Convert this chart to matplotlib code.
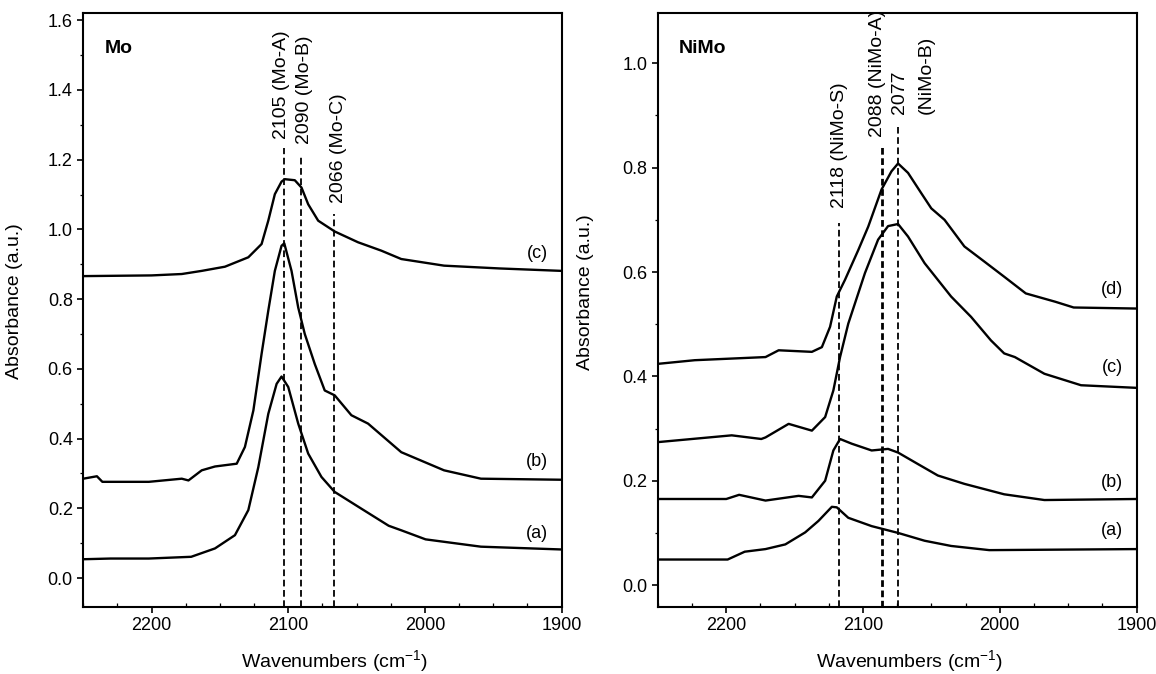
import matplotlib.pyplot as plt
from matplotlib.ticker import MultipleLocator

plt.rcParams['font.family'] = ['Liberation Sans', 'DejaVu Sans']

# ---- Mo panel ----
mo_a_x = [2250, 2230, 2202, 2171, 2153.6, 2139, 2129.2, 2121.9, 2114.6, 2108.5, 2104.9,
          2100, 2092.7, 2085.4, 2075.7, 2066, 2046.5, 2026.5, 2017.3, 1999.5, 1959, 1900]
mo_a_y = [0.054, 0.056, 0.056, 0.061, 0.085, 0.123, 0.195, 0.318, 0.471, 0.557, 0.578,
          0.548, 0.443, 0.357, 0.290, 0.247, 0.199, 0.150, 0.137, 0.111, 0.090, 0.082]

mo_b_x = [2250, 2240, 2236, 2202, 2177.9, 2173, 2163.3, 2153.6, 2137.7, 2131.7, 2125.5,
          2119.5, 2114.6, 2109.8, 2104.9, 2102.9, 2097.6, 2092.7, 2087.9, 2080.6, 2073.3,
          2066, 2053.8, 2041.6, 2017.3, 1986, 1959, 1900]
mo_b_y = [0.285, 0.292, 0.276, 0.276, 0.285, 0.280, 0.309, 0.320, 0.328, 0.376, 0.481,
          0.643, 0.767, 0.881, 0.953, 0.960, 0.881, 0.776, 0.700, 0.614, 0.538,
          0.524, 0.467, 0.443, 0.361, 0.309, 0.285, 0.282]

mo_c_x = [2250, 2200, 2177.9, 2163.3, 2146.3, 2129.2, 2119.5, 2114.6, 2109.8, 2104.9,
          2102.5, 2095.2, 2090.3, 2085.4, 2078.1, 2066, 2048.9, 2031.9, 2017.3, 1986,
          1945.5, 1900]
mo_c_y = [0.866, 0.868, 0.872, 0.881, 0.893, 0.920, 0.958, 1.025, 1.101, 1.137,
          1.144, 1.141, 1.120, 1.072, 1.025, 0.994, 0.963, 0.939, 0.915, 0.896,
          0.888, 0.881]

mo_lines = [2103.2, 2090.5, 2066.8]
mo_line_tops = [1.234, 1.21, 1.045]
mo_labels = ['2105 (Mo-A)', '2090 (Mo-B)', '2066 (Mo-C)']
mo_label_x = [2104.9, 2087.8, 2063.5]
mo_label_y = [1.259, 1.245, 1.076]

# ---- NiMo panel ----
nimo_a_x = [2250, 2199, 2186.5, 2171.3, 2156.8, 2142.3, 2132.6, 2122.8, 2119.2, 2110.8,
            2093.7, 2074.4, 2055, 2035.6, 2007.7, 1900]
nimo_a_y = [0.049, 0.049, 0.064, 0.069, 0.078, 0.101, 0.123, 0.150, 0.149, 0.129,
            0.113, 0.100, 0.085, 0.075, 0.067, 0.069]

nimo_b_x = [2250, 2200, 2190.6, 2171.3, 2147.1, 2137.4, 2127.7, 2121.7, 2116.8, 2108.3,
            2093.7, 2081.7, 2074.4, 2059.9, 2045.3, 2025.9, 1996.8, 1967.4, 1900]
nimo_b_y = [0.165, 0.165, 0.173, 0.162, 0.171, 0.168, 0.200, 0.258, 0.280, 0.271,
            0.258, 0.261, 0.254, 0.232, 0.210, 0.194, 0.174, 0.163, 0.165]

nimo_c_x = [2250, 2196, 2174.4, 2171.3, 2154.4, 2137.4, 2127.7, 2121.7, 2116.8, 2110.8,
            2103.5, 2098.6, 2089, 2081.7, 2074.4, 2067.1, 2055, 2045.3, 2035.6, 2021,
            2006.5, 1996.8, 1989, 1967.4, 1940.6, 1900]
nimo_c_y = [0.274, 0.287, 0.280, 0.283, 0.309, 0.296, 0.322, 0.373, 0.437, 0.501,
            0.559, 0.598, 0.662, 0.688, 0.692, 0.668, 0.617, 0.585, 0.553, 0.514,
            0.469, 0.444, 0.437, 0.405, 0.383, 0.378]

nimo_d_x = [2250, 2223, 2171.3, 2161.7, 2137.4, 2130.1, 2124.1, 2119.2, 2113.2, 2103.5,
            2096.2, 2086.5, 2079.2, 2074.4, 2067.1, 2057.4, 2050.1, 2040.4, 2025.9,
            2011.3, 1996.8, 1981, 1959.4, 1946, 1900]
nimo_d_y = [0.424, 0.431, 0.437, 0.450, 0.447, 0.456, 0.495, 0.553, 0.585, 0.642,
            0.687, 0.758, 0.793, 0.808, 0.790, 0.751, 0.722, 0.700, 0.649,
            0.620, 0.591, 0.559, 0.543, 0.532, 0.530]

nimo_lines = [2117.9, 2085.8, 2074.2]
nimo_line_tops = [0.693, 0.839, 0.878]
nimo_line_widths = [1.3, 2.0, 1.3]
nimo_labels = ['2118 (NiMo-S)', '2088 (NiMo-A)', '2077', '(NiMo-B)']
nimo_label_x = [2117.4, 2089.3, 2073.2, 2053.6]
nimo_label_y = [0.723, 0.858, 0.902, 0.902]

fig = plt.figure(figsize=(11.56, 6.74), dpi=100)
ax1 = fig.add_axes([0.072, 0.0994, 0.4138, 0.881])
ax2 = fig.add_axes([0.5691, 0.0994, 0.4141, 0.881])


def style(ax, ylim):
    ax.set_xlim(2250, 1900)
    ax.set_ylim(*ylim)
    ax.xaxis.set_major_locator(MultipleLocator(100))
    ax.xaxis.set_minor_locator(MultipleLocator(25))
    ax.yaxis.set_major_locator(MultipleLocator(0.2))
    ax.yaxis.set_minor_locator(MultipleLocator(0.1))
    ax.tick_params(which='major', direction='out', length=4, width=1.2, labelsize=13)
    ax.tick_params(axis='x', which='minor', direction='in', length=3, width=0.9)
    ax.tick_params(axis='y', which='minor', direction='out', length=2.5, width=0.9)
    ax.yaxis.set_major_formatter(plt.FormatStrFormatter('%.1f'))
    for s in ax.spines.values():
        s.set_linewidth(1.5)
    ax.set_xlabel('Wavenumbers (cm$^{\\mathregular{-1}}$)', fontsize=14)
    ax.xaxis.set_label_coords(0.525, -0.07)
    ax.set_ylabel('Absorbance (a.u.)', fontsize=14)


style(ax1, (-0.083, 1.62))
style(ax2, (-0.042, 1.096))
ax1.yaxis.set_label_coords(-0.125, 0.515)
ax2.yaxis.set_label_coords(-0.1335, 0.53)

for xs, ys in [(mo_a_x, mo_a_y), (mo_b_x, mo_b_y), (mo_c_x, mo_c_y)]:
    ax1.plot(xs, ys, color='black', lw=1.7)
for xs, ys in [(nimo_a_x, nimo_a_y), (nimo_b_x, nimo_b_y),
               (nimo_c_x, nimo_c_y), (nimo_d_x, nimo_d_y)]:
    ax2.plot(xs, ys, color='black', lw=1.7)

# dashed marker lines
for p, t in zip(mo_lines, mo_line_tops):
    ax1.plot([p, p], [-0.083, t], color='black', lw=1.3, ls=(0, (3.7, 2)))
for p, t, w in zip(nimo_lines, nimo_line_tops, nimo_line_widths):
    ax2.plot([p, p], [-0.042, t], color='black', lw=w, ls=(0, (3.7 * 1.3 / w, 2 * 1.3 / w)))

for lab, x, y in zip(mo_labels, mo_label_x, mo_label_y):
    ax1.text(x, y, lab, rotation=90, ha='center', va='bottom', fontsize=14)
for lab, x, y in zip(nimo_labels, nimo_label_x, nimo_label_y):
    ax2.text(x, y, lab, rotation=90, ha='center', va='bottom', fontsize=14)

ax1.text(0.046, 0.94, 'Mo', transform=ax1.transAxes, fontsize=14, fontweight='bold',
         va='center')
ax2.text(0.0445, 0.94, 'NiMo', transform=ax2.transAxes, fontsize=14, fontweight='bold',
         va='center')

for ax, labs, ys in [(ax1, ['(c)', '(b)', '(a)'], [0.932, 0.333, 0.128]),
                     (ax2, ['(d)', '(c)', '(b)', '(a)'], [0.566, 0.417, 0.196, 0.104])]:
    for lab, y in zip(labs, ys):
        ax.text(1910, y, lab, fontsize=13, ha='right', va='center')

fig.savefig('out.png', dpi=100)
